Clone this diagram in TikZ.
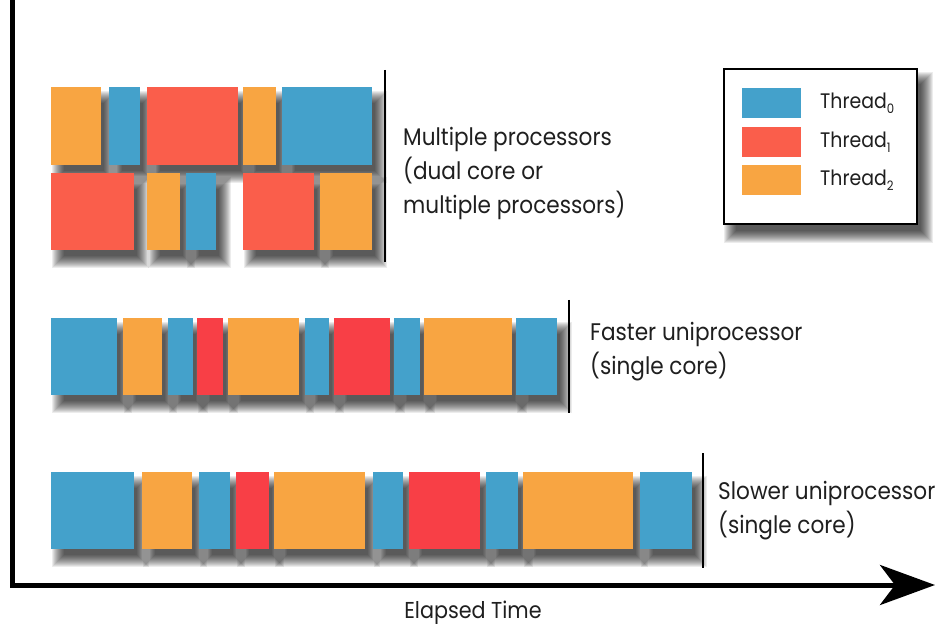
\documentclass[tikz,border=0pt]{standalone}
\usepackage{fontspec}
\setmainfont{Poppins}[FakeStretch=0.9]
\usetikzlibrary{calc,arrows.meta}
\pgfdeclarelayer{back}
\pgfdeclarelayer{shad}
\pgfsetlayers{back,shad,main}
\definecolor{tblue}{HTML}{44A1CB}
\definecolor{torange}{HTML}{F8A542}
\definecolor{tredA}{HTML}{FA5E4B}
\definecolor{tredB}{HTML}{F83F46}
\newcommand\mkshadow[1]{%
  \begin{pgfonlayer}{shad}
  \foreach \e in {7,6,...,-5}{%
    \fill[black,opacity=0.075] ($(#1.north west)+(8-\e,11-\e)$) rectangle ($(#1.south east)+(8+\e,11+\e)$);}
  \end{pgfonlayer}}
\newcommand\tblk[6]{\node[blk,fill=#6,minimum width=#4pt,minimum height=#5pt] (#1) at (#2,#3) {};\mkshadow{#1}}
\begin{document}
\begin{tikzpicture}[x=1pt,y=-1pt,
  blk/.style={draw=none,inner sep=0pt,outer sep=0pt,anchor=north west},
  lbl/.style={anchor=west,align=left,inner sep=0pt,font=\fontsize{24}{34}\selectfont,text=black!88},
  leg/.style={anchor=west,inner sep=0pt,font=\fontsize{21}{24}\selectfont,text=black!88},
  marker/.style={line width=2pt,black},
  axis/.style={line width=5pt,black}]
\useasboundingbox (0,0) rectangle (951,631);
\begin{pgfonlayer}{back}
\fill[white] (0,0) rectangle (951,631);
\end{pgfonlayer}
% Multiple processors, row 1
\tblk{a1}{51}{87}{50}{78}{torange}
\tblk{a2}{109}{87}{31}{78}{tblue}
\tblk{a3}{147}{87}{91}{78}{tredA}
\tblk{a4}{243}{87}{33}{78}{torange}
\tblk{a5}{282}{87}{90}{78}{tblue}
% row 2
\tblk{b1}{51}{173}{83}{77}{tredA}
\tblk{b2}{147}{173}{33}{77}{torange}
\tblk{b3}{186}{173}{30}{77}{tblue}
\tblk{b4}{243}{173}{71}{77}{tredA}
\tblk{b5}{320}{173}{52}{77}{torange}
% Faster uniprocessor
\tblk{c1}{51}{318}{66}{77}{tblue}
\tblk{c2}{123}{318}{39}{77}{torange}
\tblk{c3}{168}{318}{25}{77}{tblue}
\tblk{c4}{197}{318}{26}{77}{tredB}
\tblk{c5}{228}{318}{71}{77}{torange}
\tblk{c6}{305}{318}{24}{77}{tblue}
\tblk{c7}{334}{318}{56}{77}{tredB}
\tblk{c8}{394}{318}{26}{77}{tblue}
\tblk{c9}{424}{318}{88}{77}{torange}
\tblk{c10}{516}{318}{41}{77}{tblue}
% Slower uniprocessor
\tblk{d1}{51}{472}{83}{77}{tblue}
\tblk{d2}{142}{472}{50}{77}{torange}
\tblk{d3}{199}{472}{31}{77}{tblue}
\tblk{d4}{236}{472}{33}{77}{tredB}
\tblk{d5}{274}{472}{91}{77}{torange}
\tblk{d6}{373}{472}{30}{77}{tblue}
\tblk{d7}{409}{472}{71}{77}{tredB}
\tblk{d8}{486}{472}{32}{77}{tblue}
\tblk{d9}{523}{472}{110}{77}{torange}
\tblk{d10}{640}{472}{52}{77}{tblue}
% markers
\coordinate (m1a) at (385,70); \coordinate (m1b) at (385,262);
\coordinate (m2a) at (569,300); \coordinate (m2b) at (569,413);
\coordinate (m3a) at (703,453); \coordinate (m3b) at (703,568);
\draw[marker] (m1a) -- (m1b);
\draw[marker] (m2a) -- (m2b);
\draw[marker] (m3a) -- (m3b);
% labels
\node[lbl] (l1) at (403,173) {Multiple processors\\(dual core or\\multiple processors)};
\node[lbl] (l2) at (590,352) {Faster uniprocessor\\(single core)};
\node[lbl] (l3) at (718,511) {Slower uniprocessor\\(single core)};
% legend
\node[draw=black,line width=2pt,fill=white,inner sep=0pt,anchor=north west,
  minimum width=193pt,minimum height=155pt] (legend) at (723,68) {};
\mkshadow{legend}
\tblk{s0}{742}{88}{59}{30}{tblue}
\tblk{s1}{742}{127}{59}{30}{tredA}
\tblk{s2}{742}{165}{59}{30}{torange}
\node[leg] (t0) at (820,103) {Thread\raisebox{-5pt}{\fontsize{13}{13}\selectfont 0}};
\node[leg] (t1) at (820,142) {Thread\raisebox{-5pt}{\fontsize{13}{13}\selectfont 1}};
\node[leg] (t2) at (820,180) {Thread\raisebox{-5pt}{\fontsize{13}{13}\selectfont 2}};
% axes
\coordinate (top) at (12,-3);
\coordinate (orig) at (12,585);
\coordinate (tip) at (935,585);
\draw[axis,-{Stealth[length=55pt,width=40pt,inset=15pt]}] (top) -- (orig) -- (tip);
\node[inner sep=0pt,font=\fontsize{23}{26}\selectfont,text=black!88] (xl) at (473,613) {Elapsed Time};
\end{tikzpicture}
\end{document}
